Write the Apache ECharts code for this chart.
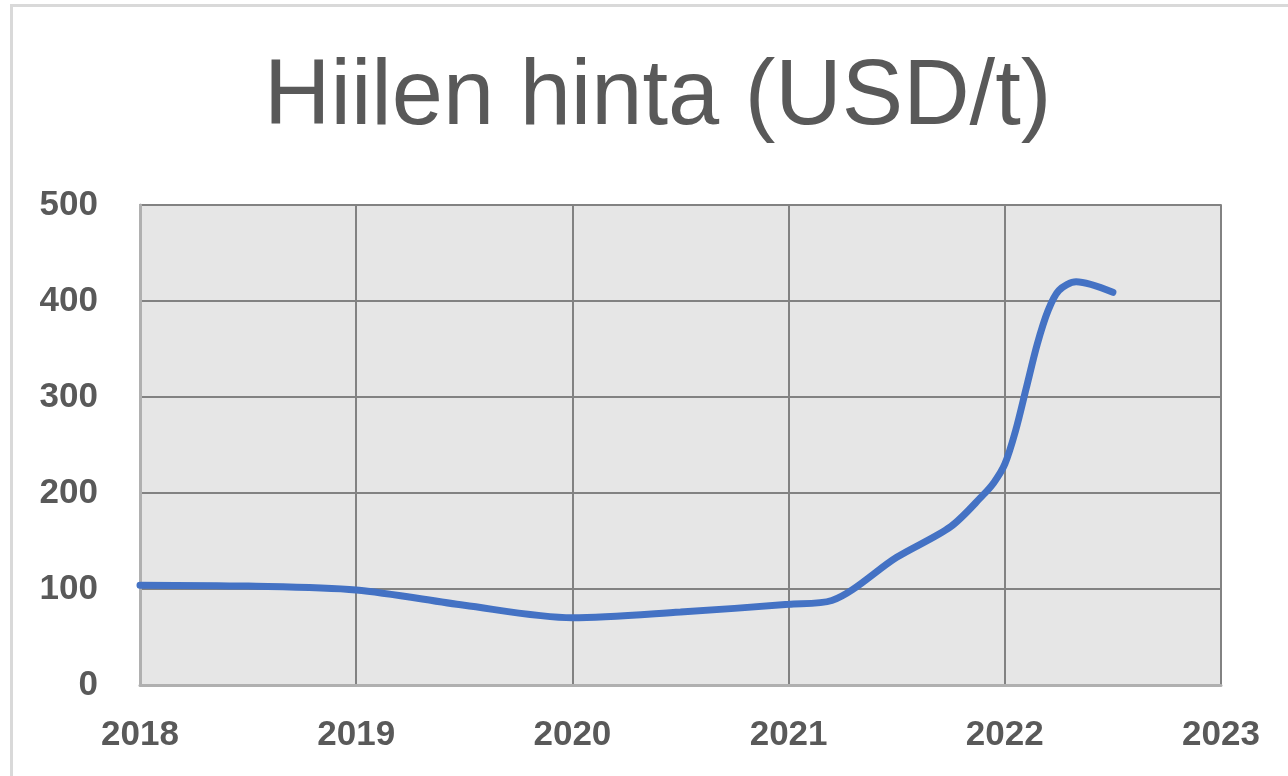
<!DOCTYPE html>
<html>
<head>
<meta charset="utf-8">
<script src="https://cdn.jsdelivr.net/npm/echarts@6/dist/echarts.min.js"></script>
<style>
  html, body { margin: 0; padding: 0; background: #fff; }
  #main { width: 1288px; height: 776px; }
</style>
</head>
<body>
<div id="main"></div>
<script>
// years (fractional) and coal price in USD/t
var years = [2018.0, 2018.5, 2019.0, 2019.5, 2020.0, 2020.5, 2021.0, 2021.2, 2021.5, 2021.75, 2021.9, 2021.95, 2022.0, 2022.05, 2022.1, 2022.15, 2022.2, 2022.25, 2022.33, 2022.5];
var prices = [104, 103, 99, 83, 70, 76, 84, 88, 133, 165, 198, 211, 230, 265, 310, 355, 390, 411, 420, 409];
var xTicks = [2018, 2019, 2020, 2021, 2022, 2023];

var chartDom = document.getElementById('main');
var myChart = echarts.init(chartDom);

var seriesData = [];
for (var i = 0; i < years.length; i++) {
  seriesData.push([years[i], prices[i]]);
}

var option = {
  backgroundColor: '#ffffff',
  animation: false,
  title: {
    text: 'Hiilen hinta (USD/t)',
    left: 259,
    top: 48,
    textStyle: {
      fontFamily: 'Liberation Sans',
      fontSize: 92,
      fontWeight: 'normal',
      color: '#595959'
    }
  },
  graphic: [
    { type: 'rect', shape: { x: 10, y: 4, width: 1278, height: 3 }, style: { fill: '#d9d9d9' } },
    { type: 'rect', shape: { x: 10, y: 4, width: 3, height: 772 }, style: { fill: '#d9d9d9' } }
  ],
  grid: {
    left: 140,
    right: 67,
    top: 205,
    bottom: 91,
    show: true,
    backgroundColor: '#e6e6e6',
    borderColor: '#a6a6a6',
    borderWidth: 2
  },
  xAxis: {
    type: 'value',
    min: xTicks[0],
    max: xTicks[xTicks.length - 1],
    interval: 1,
    axisLine: { show: true, lineStyle: { color: '#b0b0b0', width: 3 } },
    axisTick: { show: false },
    splitLine: { show: true, lineStyle: { color: '#828282', width: 2 } },
    axisLabel: {
      margin: 33,
      fontFamily: 'Liberation Sans',
      fontSize: 35,
      fontWeight: 'bold',
      color: '#595959',
      formatter: function (v) { return String(v); }
    }
  },
  yAxis: {
    type: 'value',
    min: 0,
    max: 500,
    interval: 100,
    axisLine: { show: true, lineStyle: { color: '#b0b0b0', width: 3 } },
    axisTick: { show: false },
    splitLine: { show: true, lineStyle: { color: '#828282', width: 2 } },
    axisLabel: {
      margin: 42,
      fontFamily: 'Liberation Sans',
      fontSize: 35,
      fontWeight: 'bold',
      color: '#595959'
    }
  },
  series: [
    {
      type: 'line',
      data: seriesData,
      smooth: 0.3,
      showSymbol: false,
      lineStyle: { color: '#4472c4', width: 7, cap: 'round' }
    }
  ]
};

option && myChart.setOption(option);
</script>
</body>
</html>
